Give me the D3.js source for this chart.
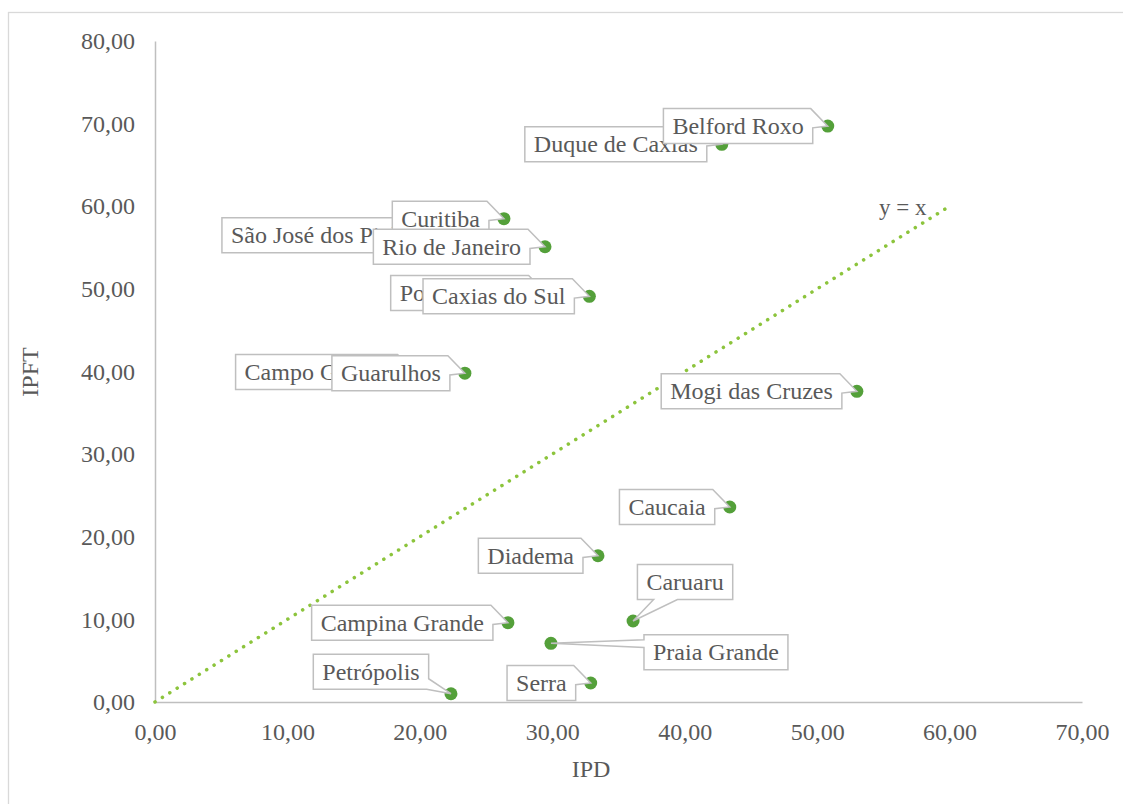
<!DOCTYPE html>
<html><head><meta charset="utf-8">
<script src="https://cdn.jsdelivr.net/npm/d3@7"></script>
<style>
html,body{margin:0;padding:0;background:#fff;}
svg text{font-family:"Liberation Serif","Times New Roman",serif;fill:#595959;}
</style></head>
<body><svg id="c" width="1123" height="804"></svg>
<script>
// ---- data ----
const cities = ["Duque de Caxias","Belford Roxo","São José dos Pinhais","Curitiba","Rio de Janeiro","Porto Alegre","Caxias do Sul","Campo Grande","Guarulhos","Mogi das Cruzes","Caucaia","Diadema","Caruaru","Campina Grande","Praia Grande","Petrópolis","Serra"];
const ipd  = [42.8, 50.8, 22.6, 26.35, 29.45, 29.5, 32.8, 19.6, 23.4, 53.0, 43.4, 33.45, 36.1, 26.65, 29.9, 22.35, 32.9];
const ipft = [67.5, 69.7, 56.5, 58.5, 55.1, 49.5, 49.1, 39.95, 39.8, 37.6, 23.6, 17.7, 9.8, 9.6, 7.1, 1.0, 2.3];
const xTicks = [0,10,20,30,40,50,60,70];
const yTicks = [0,10,20,30,40,50,60,70,80];
const identityLine = [[0,0],[60,60]];

// label placement (layout only)
const placement = {
  "Caruaru": {type:"below", dx:52, dy:-39},
  "Praia Grande": {type:"leftTail", dx:165, dy:9},
  "Petrópolis": {type:"rightLow", dx:-80, dy:-22}
};

const svg = d3.select("#c");
const fmt = v => v.toFixed(2).replace(".", ",");
const x = d3.scaleLinear().domain([0,70]).range([155,1082]);
const y = d3.scaleLinear().domain([0,80]).range([702,41]);

// outer border (left/top visible)
svg.append("rect").attr("x",8.5).attr("y",12.5).attr("width",1300).attr("height",1000)
  .attr("fill","none").attr("stroke","#d9d9d9").attr("stroke-width",1.3);

// axes
const xAxis = d3.axisBottom(x).tickValues(xTicks).tickFormat(fmt).tickSize(0).tickPadding(21);
const gx = svg.append("g").attr("transform",`translate(0,${y(0)})`).call(xAxis);
gx.select(".domain").attr("stroke","#bfbfbf").attr("stroke-width",1.5);
gx.selectAll("text").attr("font-size",24).attr("font-family","Liberation Serif").attr("fill","#595959");

const yAxis = d3.axisLeft(y).tickValues(yTicks).tickFormat(fmt).tickSize(0).tickPadding(20);
const gy = svg.append("g").attr("transform",`translate(${x(0)},0)`).call(yAxis);
gy.select(".domain").attr("stroke","#bfbfbf").attr("stroke-width",1.5);
gy.selectAll("text").attr("font-size",24).attr("font-family","Liberation Serif").attr("fill","#595959");

// axis titles
svg.append("text").attr("x",591).attr("y",777).attr("text-anchor","middle").attr("font-size",24).text("IPD");
svg.append("text").attr("transform","translate(38,372) rotate(-90)").attr("text-anchor","middle").attr("font-size",24).text("IPFT");

// y = x line
svg.append("path").datum(identityLine)
  .attr("d", d3.line().x(d=>x(d[0])).y(d=>y(d[1])))
  .attr("fill","none").attr("stroke","#8cc43c").attr("stroke-width",3.5)
  .attr("stroke-linecap","round").attr("stroke-dasharray","0.1 8.6");
svg.append("text").attr("x",x(60)-23).attr("y",y(60)+9).attr("text-anchor","end").attr("font-size",23).text("y = x");

// points
const data = cities.map((c,i)=>({name:c, px:x(ipd[i]), py:y(ipft[i])}));
svg.append("g").selectAll("circle").data(data).join("circle")
  .attr("cx",d=>d.px).attr("cy",d=>d.py).attr("r",6.5).attr("fill","#54a03a");

// callouts
const measure = svg.append("text").attr("font-size",24).attr("visibility","hidden");
const H = 35, PAD = 9;
const gl = svg.append("g");
data.forEach(d=>{
  measure.text(d.name);
  const tw = measure.node().getComputedTextLength();
  const w = tw + 2*PAD;
  const p = placement[d.name] || {type:"left"};
  let x0, y0;
  if (p.type === "left") { x0 = d.px - 15 - w; y0 = d.py - H/2; }
  else { x0 = d.px + p.dx - w/2; y0 = d.py + p.dy - H/2; }
  const x1 = x0 + w, y1 = y0 + H;
  let path;
  if (p.type === "left") {
    path = `M${x0},${y0}L${x1-2},${y0}L${d.px},${d.py}L${x1},${y0+0.55*H}L${x1},${y1}L${x0},${y1}Z`;
  } else if (p.type === "below") {
    path = `M${x0},${y0}L${x1},${y0}L${x1},${y1}L${x0+0.42*w},${y1}L${d.px},${d.py}L${x0+0.17*w},${y1}L${x0},${y1}Z`;
  } else if (p.type === "leftTail") {
    path = `M${x0},${y0}L${x1},${y0}L${x1},${y1}L${x0},${y1}L${x0},${y0+0.36*H}L${d.px},${d.py}L${x0},${y0+0.14*H}Z`;
  } else {
    path = `M${x0},${y0}L${x1},${y0}L${x1},${y0+0.7*H}L${d.px},${d.py}L${x1-2},${y1}L${x0},${y1}Z`;
  }
  const g = gl.append("g");
  g.append("path").attr("d",path).attr("fill","#fff").attr("stroke","#bfbfbf").attr("stroke-width",1.5).attr("stroke-linejoin","miter");
  g.append("text").attr("x",x0+PAD).attr("y",y0+H/2+8).attr("font-size",24).text(d.name);
});
measure.remove();
</script></body></html>
